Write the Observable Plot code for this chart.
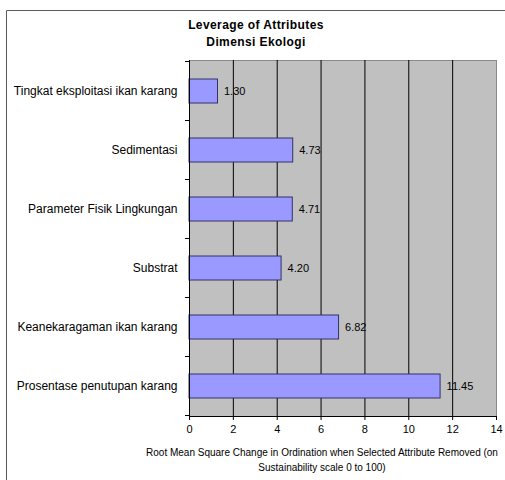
<!DOCTYPE html>
<html>
<head>
<meta charset="utf-8">
<script src="https://cdn.jsdelivr.net/npm/d3@7"></script>
<script src="https://cdn.jsdelivr.net/npm/@observablehq/plot@0.6"></script>
<style>
  body { margin: 0; background: #fff; }
  svg { display: block; }
</style>
</head>
<body>
<div id="chart"></div>
<script>
// Attributes of the ecological dimension, listed top to bottom
const attributes = [
  "Tingkat eksploitasi ikan karang",
  "Sedimentasi",
  "Parameter Fisik Lingkungan",
  "Substrat",
  "Keanekaragaman ikan karang",
  "Prosentase penutupan karang"
];
// RMS change in ordination when the attribute is removed
const leverage = [1.30, 4.73, 4.71, 4.20, 6.82, 11.45];
const xTicks = [0, 2, 4, 6, 8, 10, 12, 14];
const titleLines = ["Leverage of Attributes", "Dimensi Ekologi"];
const xLabelLines = [
  "Root Mean Square Change in Ordination when Selected Attribute Removed (on",
  "Sustainability scale 0 to 100)"
];

const data = attributes.map((a, i) => ({attribute: a, value: leverage[i]}));
const font = "'Liberation Sans', Arial, Helvetica, sans-serif";

const chart = Plot.plot({
  width: 505,
  height: 480,
  marginLeft: 189,
  marginRight: 9,
  marginTop: 60,
  marginBottom: 64,
  style: {fontFamily: font, fontSize: "11px", background: "#fff", color: "#000"},
  x: {domain: [0, 14], label: null},
  y: {domain: attributes, paddingInner: 0.6, paddingOuter: 0.3, label: null},
  marks: [
    Plot.frame({fill: "#c0c0c0", stroke: "#8a8a8a"}),
    Plot.ruleX(xTicks.slice(1, -1), {stroke: "#000", strokeWidth: 1}),
    Plot.barX(data, {y: "attribute", x: "value", fill: "#9999ff", stroke: "#333366", strokeWidth: 1}),
    Plot.text(data, {y: "attribute", x: "value", text: d => d.value.toFixed(2), textAnchor: "start", dx: 6, fontSize: 11, fill: "#000"}),
    Plot.frame({anchor: "left", stroke: "#000"}),
    Plot.frame({anchor: "bottom", stroke: "#000"}),
    Plot.axisX({ticks: xTicks, tickSize: 4, tickPadding: 5, tickFormat: d => String(d), fontSize: 11}),
    Plot.axisY({tickSize: 0, tickPadding: 12, fontSize: 12})
  ]
});

document.getElementById("chart").appendChild(chart);

const svg = d3.select(chart);
const y = chart.scale("y");
const gap = (y.step - y.bandwidth) / 2;
const left = 189;

// Category tick marks sit on the band boundaries
const bounds = attributes.map(a => y.apply(a) - gap);
bounds.push(y.apply(attributes[attributes.length - 1]) + y.bandwidth + gap);
svg.append("g")
  .attr("stroke", "#000")
  .selectAll("line")
  .data(bounds)
  .join("line")
  .attr("x1", left - 4).attr("x2", left)
  .attr("y1", d => d).attr("y2", d => d);

// Outer chart-area border
svg.append("path")
  .attr("d", "M6.5,480V10.5H505")
  .attr("fill", "none")
  .attr("stroke", "#5a5a5a");

// Title
svg.append("g")
  .attr("font-family", font)
  .attr("font-weight", "bold")
  .attr("font-size", 12)
  .attr("letter-spacing", "0.4px")
  .attr("text-anchor", "middle")
  .selectAll("text")
  .data(titleLines)
  .join("text")
  .attr("x", 256)
  .attr("y", (d, i) => 29 + i * 17)
  .text(d => d);

// X-axis caption
svg.append("g")
  .attr("font-family", font)
  .attr("font-size", 10)
  .attr("text-anchor", "middle")
  .selectAll("text")
  .data(xLabelLines)
  .join("text")
  .attr("x", 322)
  .attr("y", (d, i) => 456 + i * 15)
  .text(d => d);
</script>
</body>
</html>
